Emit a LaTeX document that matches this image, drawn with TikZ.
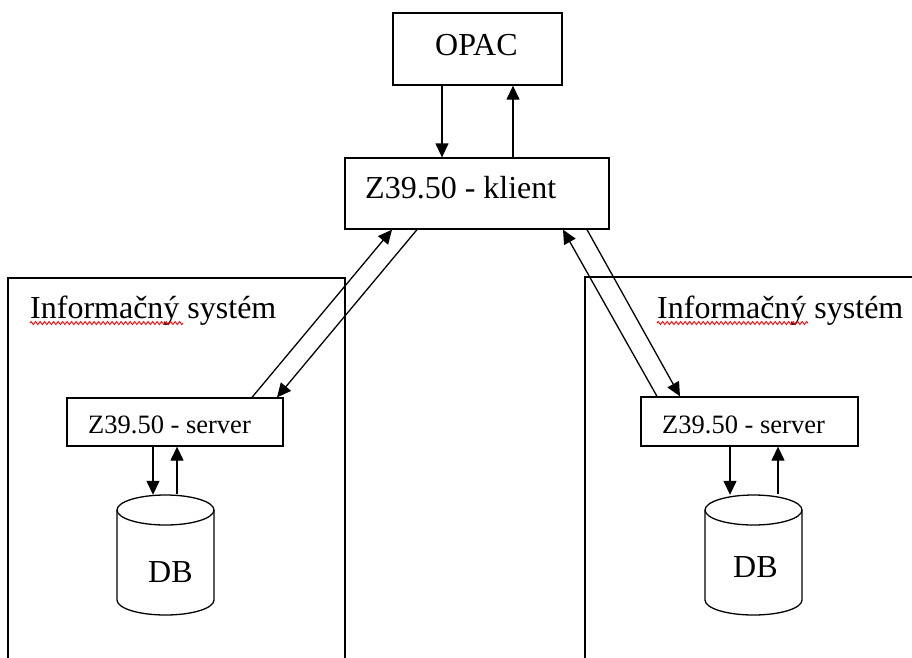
\documentclass[tikz,border=0pt]{standalone}
\usepackage{fontspec}
\setmainfont{Liberation Serif}
\usetikzlibrary{arrows.meta,decorations.pathmorphing}
\begin{document}
\begin{tikzpicture}[x=1pt,y=-1pt,
  box/.style={draw, line width=1.3pt, inner sep=0pt, rectangle},
  lbl/.style={font=\fontsize{32}{38}\selectfont, inner sep=0pt, anchor=base west},
  slbl/.style={font=\fontsize{26.5}{32}\selectfont, inner sep=0pt, anchor=base west},
  arr/.style={line width=1.3pt, -{Triangle[length=14pt,width=13pt]}},
  squig/.style={red, line width=0.9pt, decorate, decoration={zigzag, amplitude=1.5pt, segment length=4.5pt}},
  cyl/.style={line width=1.3pt},
  pics/dbcyl/.style={code={
    \draw[cyl] (0,-45) ellipse [x radius=48.5, y radius=15];
    \draw[cyl] (-48.5,-45) -- (-48.5,45) arc[start angle=180, end angle=0, x radius=48.5, y radius=15] -- (48.5,-45);
  }}]
\useasboundingbox (0,0) rectangle (912,657);
\clip (0,0) rectangle (912,657);

% containers
\node[box, minimum width=337pt, minimum height=422pt] (is1) at (176.5,489) {};
\node[box, minimum width=375pt, minimum height=422pt] (is2) at (772.5,488) {};

% main boxes
\node[box, minimum width=169pt, minimum height=72pt] (opac) at (477.5,49) {};
\node[box, minimum width=264pt, minimum height=71pt] (klient) at (477,193.5) {};
\node[box, minimum width=216pt, minimum height=48pt] (server1) at (175,422) {};
\node[box, minimum width=217pt, minimum height=49pt] (server2) at (749.5,421.5) {};

% databases
\node[inner sep=0pt, minimum width=97pt, minimum height=120pt] (db1) at (165.5,555) {};
\node[inner sep=0pt, minimum width=97pt, minimum height=120pt] (db2) at (753.5,555) {};
\pic at (db1.center) {dbcyl};
\pic at (db2.center) {dbcyl};

% texts
\node[lbl] (topac) at (435,55) {OPAC};
\node[lbl] (tklient) at (365,198) {Z39.50 - klient};
\node[lbl] (tis1) at (30,318) {Informačný systém};
\node[lbl] (tis2) at (657,318) {Informačný systém};
\node[slbl] (tserver1) at (88,433) {Z39.50 - server};
\node[slbl] (tserver2) at (662,433) {Z39.50 - server};
\node[lbl] (tdb1) at (148,582) {DB};
\node[lbl] (tdb2) at (733,577) {DB};

% spell-check squiggles
\coordinate (sq1a) at (30,323); \coordinate (sq1b) at (183,323);
\coordinate (sq2a) at (657,323); \coordinate (sq2b) at (808,323);
\draw[squig] (sq1a) -- (sq1b);
\draw[squig] (sq2a) -- (sq2b);

% OPAC <-> klient
\draw[arr] ([xshift=-35.5pt]opac.south) -- ([xshift=-35pt]klient.north);
\draw[arr] ([xshift=36pt]klient.north) -- ([xshift=35.5pt]opac.south);

% klient <-> server1
\draw[arr] ([xshift=77pt]server1.north) -- ([xshift=-85pt]klient.south);
\draw[arr] ([xshift=-60pt]klient.south) -- ([xshift=102pt]server1.north);

% klient <-> server2
\draw[arr] ([xshift=-92.5pt]server2.north) -- ([xshift=86pt]klient.south);
\draw[arr] ([xshift=110pt]klient.south) -- ([xshift=-69.5pt]server2.north);

% server <-> db
\draw[arr] ([xshift=-22pt]server1.south) -- ([xshift=-12.5pt]db1.north);
\draw[arr] ([xshift=11.5pt,yshift=0.5pt]db1.north) -- ([xshift=2pt]server1.south);
\draw[arr] ([xshift=-19.5pt]server2.south) -- ([xshift=-23.5pt]db2.north);
\draw[arr] ([xshift=24.5pt,yshift=0.5pt]db2.north) -- ([xshift=28.5pt]server2.south);
\end{tikzpicture}
\end{document}
